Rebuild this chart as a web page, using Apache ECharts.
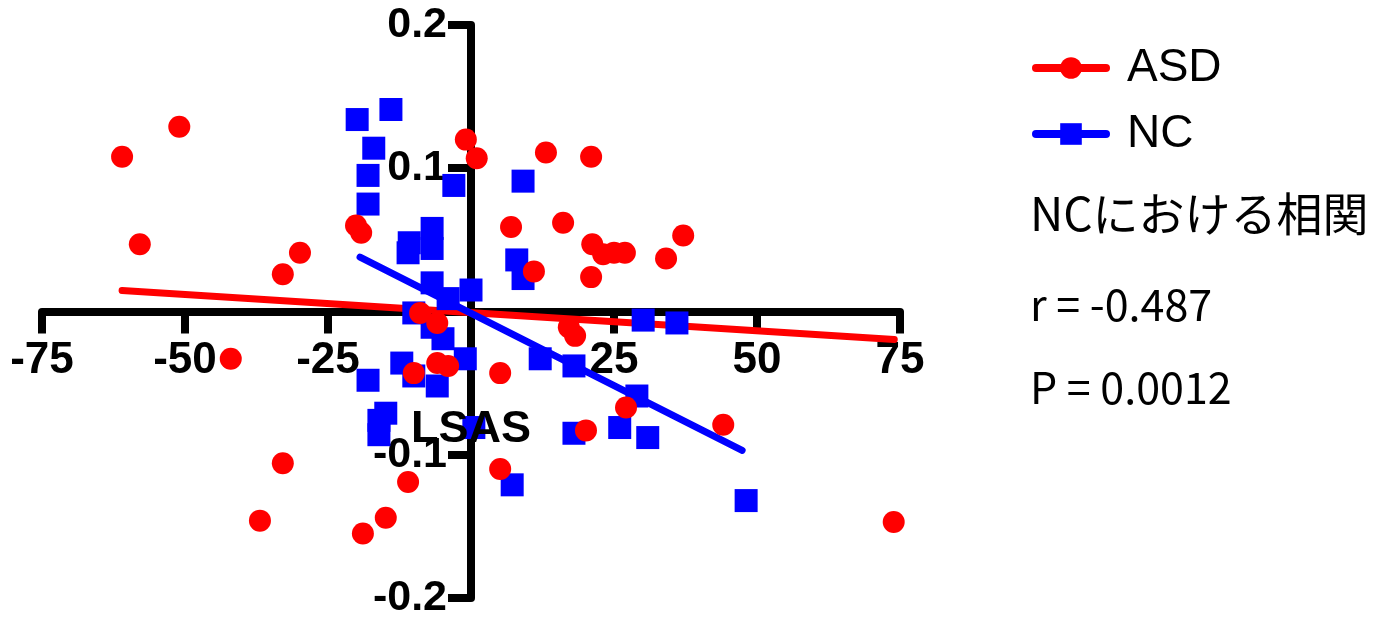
<!DOCTYPE html>
<html>
<head>
<meta charset="utf-8">
<script src="https://cdn.jsdelivr.net/npm/echarts@6/dist/echarts.min.js"></script>
<style>
  html, body { margin: 0; padding: 0; background: #fff; }
  #main { width: 1377px; height: 619px; }
</style>
</head>
<body>
<div id="main"></div>
<script>
// ASD group (red circles)
var asdLSAS = [-61.0, -51.0, -57.9, -29.9, -32.9, -20.1, -19.2, -0.9, 1.0, 13.1,
               21.0, 7.0, 16.1, 21.2, 23.1, 25.0, 26.9, 34.1, 37.1, 11.0,
               21.0, -8.9, -5.9, -10.0, -5.9, -4.0, 5.1, 17.1, 18.2, 27.1,
               20.1, 44.1, 5.1, -11.0, -32.9, -36.9, -14.9, -18.9, 73.9, -42.0];
var asdValue = [0.108, 0.129, 0.047, 0.041, 0.026, 0.060, 0.055, 0.120, 0.107, 0.111,
                0.108, 0.059, 0.062, 0.047, 0.040, 0.041, 0.041, 0.037, 0.053, 0.028,
                0.024, -0.001, -0.008, -0.043, -0.036, -0.038, -0.043, -0.011, -0.017, -0.067,
                -0.083, -0.079, -0.110, -0.119, -0.106, -0.146, -0.144, -0.155, -0.147, -0.033];

// NC group (blue squares)
var ncLSAS = [-19.9, -14.0, -17.0, -18.0, -18.0, -3.0, 9.1, -6.8, -6.8, -10.8,
              -11.0, 8.0, 9.1, -6.8, 0.0, -4.0, -10.0, 30.1, 36.0, -6.8,
              -4.9, -1.0, -12.1, -10.0, -5.9, -18.0, -14.9, -16.1, -16.1, 0.5,
              12.1, 18.0, 29.0, 18.0, 26.0, 30.9, 7.2, 48.1];
var ncValue = [0.134, 0.141, 0.114, 0.095, 0.075, 0.088, 0.091, 0.058, 0.044, 0.048,
               0.041, 0.036, 0.023, 0.020, 0.015, 0.009, -0.001, -0.006, -0.008, -0.011,
               -0.019, -0.033, -0.036, -0.045, -0.052, -0.048, -0.071, -0.076, -0.086, -0.081,
               -0.033, -0.038, -0.059, -0.085, -0.081, -0.088, -0.121, -0.132];

// regression lines (end points)
var asdFitX = [-61, 74];
var asdFitY = [0.0146, -0.0195];
var ncFitX = [-19.4, 47.4];
var ncFitY = [0.038, -0.097];

var xTicks = [-75, -50, -25, 0, 25, 50, 75];
var yTicks = [-0.2, -0.1, 0, 0.1, 0.2];

var xName = 'LSAS';
var notes = ['NCにおける相関', 'r = -0.487', 'P = 0.0012'];

function pairs(xs, ys) {
  return xs.map(function (x, i) { return [x, ys[i]]; });
}

var RED = '#ff0000';
var BLUE = '#0000ff';
var labelFont = 'Liberation Sans, Arial, sans-serif';

// plot box
var gLeft = 42, gRight = 477, gTop = 25, gBottom = 21;
var plotW = 1377 - gLeft - gRight;
var plotH = 619 - gTop - gBottom;
// move the axes so they cross at (0, 0)
var xMin = xTicks[0], xMax = xTicks[xTicks.length - 1];
var yMin = yTicks[0], yMax = yTicks[yTicks.length - 1];
var xAxisOffset = -plotH * (0 - yMin) / (yMax - yMin);
var yAxisOffset = -plotW * (0 - xMin) / (xMax - xMin);

var myChart = echarts.init(document.getElementById('main'));

var option = {
  animation: false,
  backgroundColor: '#fff',
  grid: {
    left: gLeft, right: gRight, top: gTop, bottom: gBottom,
    containLabel: false,
    outerBoundsMode: 'none'
  },
  legend: {
    orient: 'vertical',
    left: 1027,
    top: 40,
    itemWidth: 70,
    itemHeight: 27,
    itemGap: 20,
    data: ['ASD', 'NC'],
    lineStyle: { width: 8, cap: 'round' },
    textStyle: {
      fontSize: 46,
      fontFamily: labelFont,
      color: '#000',
      padding: [0, 0, 0, 16]
    }
  },
  graphic: [
    {
      // x axis title, drawn above the points as in the original
      type: 'text',
      x: gLeft + plotW / 2,
      y: 430,
      z: 100,
      style: {
        text: xName,
        fontSize: 45,
        fontWeight: 'bold',
        fontFamily: labelFont,
        fill: '#000',
        align: 'center',
        verticalAlign: 'middle'
      }
    }
  ].concat(notes.map(function (t, i) {
    return {
      type: 'text',
      left: 1030,
      top: [191, 283, 366][i],
      style: {
        text: t,
        fontSize: [46, 43, 43][i],
        fontFamily: 'Noto Sans CJK JP, sans-serif',
        fill: '#000'
      }
    };
  })),
  xAxis: {
    type: 'value',
    min: xMin,
    max: xMax,
    interval: 25,
    offset: xAxisOffset,
    axisLine: { onZero: false, lineStyle: { color: '#000', width: 8 } },
    axisTick: { show: true, length: 22, lineStyle: { color: '#000', width: 8 } },
    axisLabel: {
      margin: 27,
      fontSize: 44,
      fontWeight: 'bold',
      fontFamily: labelFont,
      color: '#000',
      showMinLabel: true,
      showMaxLabel: true,
      hideOverlap: false,
      formatter: function (v) { return v === 0 ? '' : String(v); }
    },
    splitLine: { show: false }
  },
  yAxis: {
    type: 'value',
    min: yMin,
    max: yMax,
    interval: 0.1,
    offset: yAxisOffset,
    axisLine: { onZero: false, lineStyle: { color: '#000', width: 8 } },
    axisTick: { show: true, length: 23, lineStyle: { color: '#000', width: 8 } },
    axisLabel: {
      margin: 24,
      fontSize: 43,
      fontWeight: 'bold',
      fontFamily: labelFont,
      color: '#000',
      showMinLabel: true,
      showMaxLabel: true,
      hideOverlap: false,
      formatter: function (v) { return Math.abs(v) < 1e-9 ? '' : v.toFixed(1); }
    },
    splitLine: { show: false }
  },
  series: [
    {
      name: 'ASD',
      type: 'line',
      data: pairs(asdFitX, asdFitY),
      symbol: 'circle',
      showSymbol: false,
      silent: true,
      z: 1,
      itemStyle: { color: RED },
      lineStyle: { color: RED, width: 7, cap: 'round' }
    },
    {
      name: 'NC',
      type: 'line',
      data: pairs(ncFitX, ncFitY),
      symbol: 'rect',
      showSymbol: false,
      silent: true,
      z: 1,
      itemStyle: { color: BLUE },
      lineStyle: { color: BLUE, width: 7, cap: 'round' }
    },
    {
      name: 'ASD',
      type: 'scatter',
      data: pairs(asdLSAS, asdValue),
      symbol: 'circle',
      symbolSize: 22,
      z: 3,
      itemStyle: { color: RED, opacity: 1 }
    },
    {
      name: 'NC',
      type: 'scatter',
      data: pairs(ncLSAS, ncValue),
      symbol: 'rect',
      symbolSize: 23,
      z: 2,
      itemStyle: { color: BLUE, opacity: 1 }
    }
  ]
};

myChart.setOption(option);
</script>
</body>
</html>
